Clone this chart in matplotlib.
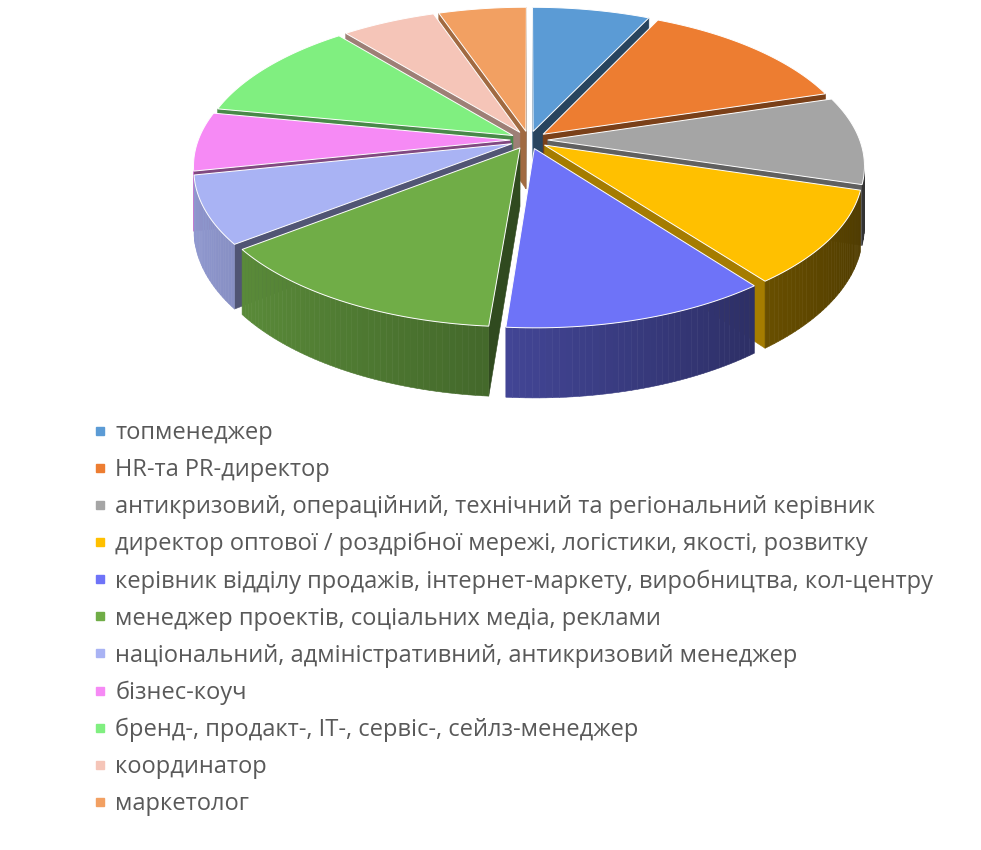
import numpy as np
import matplotlib
matplotlib.use('Agg')
import matplotlib.pyplot as plt
from matplotlib.lines import Line2D
from matplotlib.colors import to_rgb

plt.rcParams['font.family'] = ['Open Sans', 'DejaVu Sans']

labels = [
    'топменеджер',
    'HR-та PR-директор',
    'антикризовий, операційний, технічний та регіональний керівник',
    'директор оптової / роздрібної мережі, логістики, якості, розвитку',
    'керівник відділу продажів, інтернет-маркету, виробництва, кол-центру',
    'менеджер проектів, соціальних медіа, реклами',
    'національний, адміністративний, антикризовий менеджер',
    'бізнес-коуч',
    'бренд-, продакт-, IT-, сервіс-, сейлз-менеджер',
    'координатор',
    'маркетолог',
]
values = [7.1, 13.2, 9.4, 10.0, 11.6, 13.3, 7.2, 6.3, 11.0, 5.7, 5.3]
colors = ['#5B9BD5', '#ED7D31', '#A5A5A5', '#FFC000', '#6E73F8', '#70AD47',
          '#A9B3F4', '#F68AF5', '#80EF80', '#F5C5B8', '#F2A062']

# fake 3d pie geometry (pixels)
CX, CY = 529, 140
RX, RY = 312, 147
P = 0.163
DEPTH = 58
EXPLODE = 0.06


def project(u, v, z=0.0):
    s = 1.0 / (1.0 - P * v)
    return CX + RX * u * s, CY + (RY * v + z) * s


def shade(c, phi, base=0.58, amp=0.28):
    f = base - amp * np.sin(np.radians(phi))
    return tuple(np.clip(np.array(to_rgb(c)) * f, 0, 1))


def visible(u, v, nu, nv):
    return nu * (0 - u) + nv * (1.0 / P - v) > 0


fig = plt.figure(figsize=(9.81, 8.5), dpi=100)
ax = fig.add_axes([0, 0, 1, 1])
ax.set_xlim(0, 981)
ax.set_ylim(850, 0)
ax.axis('off')

frac = np.array(values) / np.sum(values) * 360
ends = np.cumsum(frac)
starts = ends - frac

walls = []
tops = []
for i in range(len(values)):
    t1, t2 = starts[i], ends[i]
    mid = np.radians((t1 + t2) / 2)
    ou, ov = EXPLODE * np.sin(mid), -EXPLODE * np.cos(mid)
    ts = np.linspace(t1, t2, max(int(t2 - t1), 2) + 1)
    tr = np.radians(ts)
    us, vs = ou + np.sin(tr), ov - np.cos(tr)
    tops.append((np.r_[ou, us], np.r_[ov, vs], colors[i]))

    # outer wall, small quads so the shading runs across it
    for k in range(len(ts) - 1):
        tm = np.radians((ts[k] + ts[k + 1]) / 2)
        um, vm = ou + np.sin(tm), ov - np.cos(tm)
        if not visible(um, vm, np.sin(tm), -np.cos(tm)):
            continue
        qu = [us[k], us[k + 1], us[k + 1], us[k]]
        qv = [vs[k], vs[k + 1], vs[k + 1], vs[k]]
        qz = [0, 0, DEPTH, DEPTH]
        walls.append((vm, qu, qv, qz, shade(colors[i], np.degrees(tm))))

    # radial walls (seen in the gaps)
    for t, sign in ((t1, -1), (t2, 1)):
        r = np.radians(t)
        nu, nv = sign * np.cos(r), sign * np.sin(r)
        pu, pv = ou + np.sin(r), ov - np.cos(r)
        if not visible((ou + pu) / 2, (ov + pv) / 2, nu, nv):
            continue
        phi = t + 90 * sign
        walls.append(((ov + pv) / 2, [ou, pu, pu, ou], [ov, pv, pv, ov],
                      [0, 0, DEPTH, DEPTH], shade(colors[i], phi, 0.55, 0.12)))

walls.sort(key=lambda w: w[0])
for _, qu, qv, qz, c in walls:
    x, y = project(np.array(qu), np.array(qv), np.array(qz))
    ax.fill(x, y, color=c, lw=0.4, ec=c)

for tu, tv, c in tops:
    x, y = project(tu, tv)
    ax.fill(x, y, color=c, ec='white', lw=0.7)

handles = [Line2D([], [], marker='s', linestyle='none', markersize=6,
                  markerfacecolor=c, markeredgecolor=c) for c in colors]
ax.legend(handles, labels, loc='upper left', bbox_to_anchor=(94 / 981, 1 - 421 / 850),
          bbox_transform=fig.transFigure, frameon=False, fontsize=17,
          labelcolor='#595959', handlelength=0.53, handletextpad=0.37,
          labelspacing=0.55, borderaxespad=0, borderpad=0)

fig.savefig('out.png', dpi=100)
